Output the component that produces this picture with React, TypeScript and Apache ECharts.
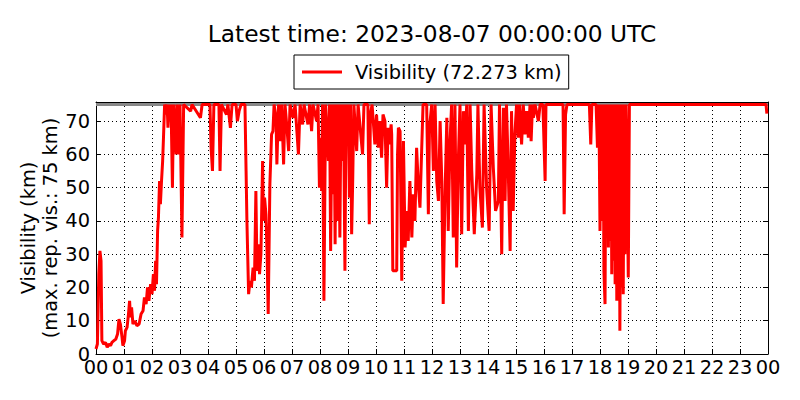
import React, { useEffect, useRef } from "react";
import * as echarts from "echarts";

const TITLE = "Latest time: 2023-08-07 00:00:00 UTC";
const SERIES_NAME = "Visibility (72.273 km)";
const Y_LABEL_1 = "Visibility (km)";
const Y_LABEL_2 = "(max. rep. vis.: 75 km)";
const MAX_REPORTED = 75;

// [hour of day (UTC), visibility km]
const visibility: [number, number][] = [
  [0, 1.5], [0.05, 3], [0.1, 24], [0.14, 31], [0.18, 28], [0.21, 4], [0.27, 3], [0.34, 3.5], [0.4, 2], [0.46, 3],
  [0.52, 2.5], [0.57, 3.5], [0.64, 4], [0.71, 4.5], [0.77, 6], [0.82, 10.5], [0.87, 9], [0.93, 5], [0.96, 2.5],
  [1.02, 4], [1.05, 7], [1.11, 8], [1.16, 12], [1.2, 16], [1.23, 11], [1.27, 14], [1.32, 9], [1.39, 10], [1.46, 8.5],
  [1.54, 9], [1.61, 12], [1.68, 13], [1.73, 17], [1.79, 15], [1.84, 20], [1.89, 16], [1.95, 21],
  [2.0, 18], [2.05, 24], [2.09, 19], [2.13, 28], [2.16, 21], [2.2, 37], [2.23, 41], [2.27, 52], [2.3, 45], [2.34, 52],
  [2.38, 58], [2.41, 65], [2.45, 75], [2.5, 72], [2.54, 75], [2.57, 68], [2.61, 75], [2.64, 70], [2.68, 75], [2.73, 50],
  [2.77, 75], [2.82, 68], [2.86, 60], [2.89, 75], [2.93, 60], [2.96, 62],
  [3.0, 75], [3.07, 35], [3.13, 75], [3.38, 73], [3.43, 75], [3.73, 71], [3.79, 75],
  [4.07, 75], [4.11, 62], [4.16, 55], [4.21, 75], [4.39, 75], [4.43, 55], [4.48, 75], [4.66, 72], [4.71, 75], [4.8, 68], [4.86, 75],
  [5.0, 75], [5.05, 70], [5.11, 73], [5.18, 75], [5.32, 75], [5.36, 55], [5.39, 40], [5.45, 18], [5.5, 22], [5.55, 20],
  [5.61, 26], [5.66, 22], [5.71, 49], [5.75, 25], [5.8, 33], [5.84, 24], [5.89, 30], [5.95, 58], [5.98, 40],
  [6.02, 47], [6.07, 42], [6.11, 30], [6.15, 12], [6.21, 51], [6.27, 66], [6.32, 67], [6.36, 75], [6.43, 71], [6.46, 57],
  [6.52, 75], [6.57, 64], [6.63, 75], [6.7, 57], [6.75, 75], [6.82, 68], [6.88, 61], [6.93, 75],
  [7.04, 71], [7.11, 75], [7.23, 60], [7.29, 75], [7.38, 69], [7.43, 75], [7.57, 69], [7.63, 75], [7.7, 67], [7.75, 75],
  [7.88, 70], [7.93, 75], [7.98, 50],
  [8.02, 65], [8.06, 49], [8.09, 75], [8.14, 16], [8.2, 75], [8.3, 58], [8.34, 75], [8.38, 31], [8.43, 75], [8.45, 48],
  [8.5, 75], [8.54, 33], [8.57, 75], [8.62, 40], [8.66, 75], [8.71, 35], [8.75, 75], [8.8, 58], [8.84, 75], [8.89, 25],
  [8.93, 75], [8.97, 68],
  [9.01, 75], [9.05, 47], [9.09, 75], [9.13, 36], [9.17, 53], [9.21, 75], [9.31, 61], [9.36, 75], [9.52, 60], [9.57, 75],
  [9.71, 75], [9.76, 39], [9.8, 72], [9.86, 75], [9.96, 63],
  [10.02, 72], [10.08, 62], [10.14, 70], [10.2, 59], [10.25, 72], [10.32, 70], [10.38, 50], [10.43, 68], [10.48, 63],
  [10.54, 69], [10.56, 66], [10.6, 25], [10.68, 25], [10.74, 25], [10.77, 60], [10.8, 68], [10.86, 67], [10.92, 22], [10.98, 64],
  [11.04, 32], [11.1, 43], [11.15, 34], [11.21, 52], [11.28, 35], [11.33, 48], [11.39, 40], [11.45, 62], [11.51, 51],
  [11.57, 44], [11.63, 61], [11.68, 75], [11.81, 75], [11.87, 42], [11.91, 68], [11.99, 75],
  [12.05, 55], [12.11, 75], [12.17, 52], [12.23, 46], [12.29, 70], [12.35, 52], [12.4, 15], [12.46, 46], [12.53, 71],
  [12.58, 37], [12.64, 63], [12.7, 75], [12.76, 35], [12.82, 75], [12.88, 26], [12.94, 58],
  [13.0, 75], [13.06, 36], [13.12, 73], [13.18, 63], [13.24, 75], [13.3, 37], [13.36, 75], [13.42, 55], [13.51, 36],
  [13.6, 54], [13.64, 75], [13.71, 50], [13.8, 38], [13.86, 75], [13.95, 50],
  [14.04, 37], [14.11, 75], [14.19, 56], [14.27, 43], [14.37, 46], [14.41, 75], [14.49, 30], [14.55, 74], [14.61, 46],
  [14.66, 75], [14.71, 60], [14.79, 31], [14.84, 73], [14.9, 43], [14.96, 66],
  [15.02, 75], [15.08, 65], [15.13, 75], [15.2, 63], [15.26, 75], [15.32, 66], [15.38, 73], [15.44, 65], [15.5, 75],
  [15.54, 64], [15.59, 75], [15.62, 71], [15.68, 75], [15.8, 70], [15.86, 75], [15.96, 75],
  [16.04, 52], [16.07, 75], [16.68, 75], [16.72, 42], [16.77, 72], [16.82, 75],
  [17.62, 75], [17.67, 63], [17.71, 75], [17.86, 75], [17.91, 62], [17.96, 75],
  [18.0, 37], [18.04, 75], [18.07, 40], [18.11, 75], [18.14, 25], [18.18, 15], [18.21, 75], [18.24, 54], [18.27, 75],
  [18.3, 32], [18.32, 75], [18.36, 34], [18.39, 75], [18.42, 24], [18.45, 75], [18.48, 28], [18.52, 75], [18.54, 21],
  [18.57, 75], [18.6, 16], [18.63, 75], [18.65, 21], [18.68, 75], [18.71, 7], [18.75, 75], [18.77, 20], [18.8, 75],
  [18.83, 18], [18.86, 75], [18.89, 30], [18.93, 75], [18.96, 60],
  [19.01, 23], [19.05, 75], [23.93, 75], [23.96, 72.273],
];

const X_MIN = 0;
const X_MAX = 24;
const Y_MIN = 0;
const Y_MAX = 75.75;

const FONT = "DejaVu Sans";

export default function App() {
  const ref = useRef<HTMLDivElement>(null);
  useEffect(() => {
    if (!ref.current) return;
    const chart = echarts.init(ref.current, null, { renderer: "svg" });
    const hourFmt = (v: number) => String(Math.round(v) % 24).padStart(2, "0");
    const axisLine = { show: true, onZero: false, lineStyle: { color: "#000", width: 1 } };
    const tick = { show: true, inside: true, length: 5, lineStyle: { color: "#000", width: 1 } };
    const grid = { show: true, lineStyle: { color: "#000", width: 1, type: [1, 3] as any } };
    chart.setOption({
      animation: false,
      grid: { left: 96, right: 32, top: 102, height: 252 },
      title: {
        text: TITLE,
        left: 432,
        top: 22,
        textAlign: "center",
        padding: 0,
        textStyle: { fontFamily: FONT, fontSize: 23.3, fontWeight: "normal", color: "#000" },
      },
      legend: {
        data: [{ name: SERIES_NAME, icon: "rect" }],
        left: 294,
        top: 55,
        padding: [6, 7, 6, 8],
        borderColor: "#000",
        borderWidth: 1,
        borderRadius: 0,
        itemWidth: 40,
        itemHeight: 3,
        textStyle: { fontFamily: FONT, fontSize: 19.4, color: "#000", lineHeight: 22, padding: [0, 0, 0, 8] },
      },
      xAxis: [
        {
          type: "value",
          min: X_MIN,
          max: X_MAX,
          interval: 1,
          axisLine,
          axisTick: tick,
          axisLabel: { formatter: hourFmt, fontFamily: FONT, fontSize: 19.4, color: "#000", margin: 4 },
          splitLine: grid,
        },
        {
          type: "value",
          position: "top",
          min: X_MIN,
          max: X_MAX,
          interval: 1,
          axisLine,
          axisTick: tick,
          axisLabel: { show: false },
          splitLine: { show: false },
        },
      ],
      yAxis: [
        {
          type: "value",
          min: Y_MIN,
          max: Y_MAX,
          interval: 10,
          axisLine,
          axisTick: tick,
          axisLabel: {
            formatter: (v: number) => (v % 10 === 0 ? String(v) : ""),
            showMaxLabel: false,
            fontFamily: FONT,
            fontSize: 19.4,
            color: "#000",
            margin: 6,
          },
          splitLine: grid,
        },
        {
          type: "value",
          position: "right",
          min: Y_MIN,
          max: Y_MAX,
          interval: 10,
          axisLine,
          axisTick: tick,
          axisLabel: { show: false },
          splitLine: { show: false },
        },
      ],
      graphic: [
        {
          type: "text",
          x: 28,
          y: 228,
          rotation: Math.PI / 2,
          style: { text: Y_LABEL_1, fontFamily: FONT, fontSize: 19.4, fill: "#000", align: "center", verticalAlign: "middle" },
        },
        {
          type: "text",
          x: 50,
          y: 228,
          rotation: Math.PI / 2,
          style: { text: Y_LABEL_2, fontFamily: FONT, fontSize: 19.4, fill: "#000", align: "center", verticalAlign: "middle" },
        },
      ],
      series: [
        {
          name: "max",
          type: "line",
          data: [[X_MIN, MAX_REPORTED], [X_MAX, MAX_REPORTED]],
          showSymbol: false,
          lineStyle: { color: "#888888", width: 3 },
          silent: true,
          z: 1,
        },
        {
          name: SERIES_NAME,
          type: "line",
          data: visibility,
          showSymbol: false,
          symbol: "none",
          itemStyle: { color: "#ff0000" },
          lineStyle: { color: "#ff0000", width: 3 },
          z: 2,
        },
      ],
    });
    return () => chart.dispose();
  }, []);
  return <div ref={ref} style={{ position: "absolute", left: 0, top: 0, width: 800, height: 400 }} />;
}
